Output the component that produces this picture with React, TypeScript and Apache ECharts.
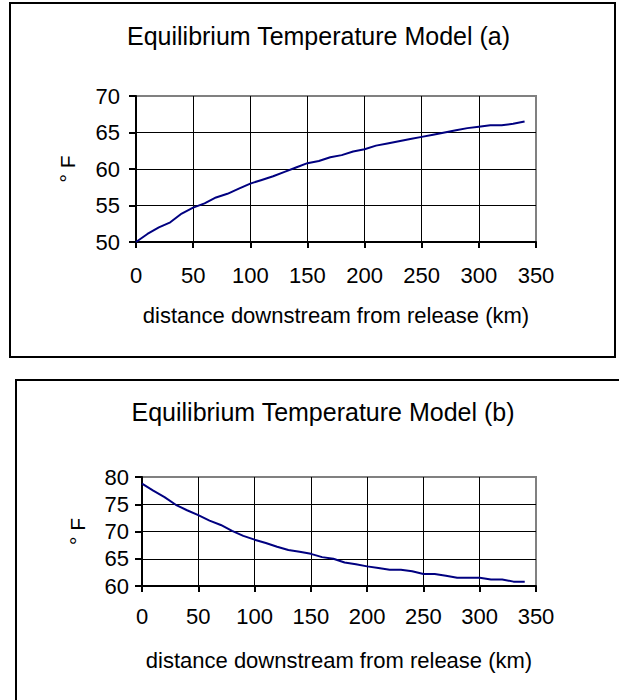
import React, { useEffect, useRef } from "react";
import * as echarts from "echarts";

// ---- data ----
const distanceKm = [0, 10, 20, 30, 40, 50, 60, 70, 80, 90, 100, 110, 120, 130, 140, 150, 160, 170, 180, 190, 200, 210, 220, 230, 240, 250, 260, 270, 280, 290, 300, 310, 320, 330, 340];
const tempModelA = [50.0, 51.1, 52.0, 52.7, 53.9, 54.7, 55.3, 56.1, 56.6, 57.3, 58.0, 58.5, 59.0, 59.6, 60.2, 60.8, 61.1, 61.6, 61.9, 62.4, 62.7, 63.2, 63.5, 63.8, 64.1, 64.4, 64.7, 65.0, 65.3, 65.6, 65.8, 66.0, 66.0, 66.2, 66.5];
const tempModelB = [78.8, 77.5, 76.3, 74.9, 73.9, 73.0, 72.0, 71.2, 70.1, 69.2, 68.5, 67.9, 67.2, 66.6, 66.3, 65.9, 65.3, 65.0, 64.3, 64.0, 63.6, 63.3, 63.0, 63.0, 62.7, 62.2, 62.2, 61.9, 61.5, 61.5, 61.5, 61.2, 61.2, 60.8, 60.8];
const titleA = "Equilibrium Temperature Model (a)";
const titleB = "Equilibrium Temperature Model (b)";
const xAxisName = "distance downstream from release (km)";
const yAxisName = "° F";
const xRange = [0, 350, 50];
const yRangeA = [50, 70, 5];
const yRangeB = [60, 80, 5];

const FONT = '"Liberation Sans", Arial, Helvetica, sans-serif';

function xAxisOpt(gridIndex: number, labelMargin: number, nameGap: number) {
  return {
    type: "value",
    gridIndex,
    min: xRange[0],
    max: xRange[1],
    interval: xRange[2],
    name: xAxisName,
    nameLocation: "middle",
    nameGap,
    nameTextStyle: { fontSize: 22, color: "#000", fontFamily: FONT },
    axisLine: { show: true, lineStyle: { color: "#000", width: 2 } },
    axisTick: { show: true, inside: false, length: 6, lineStyle: { color: "#000", width: 2 } },
    axisLabel: { fontSize: 22, color: "#000", fontFamily: FONT, margin: labelMargin },
    splitLine: { show: true, showMinLine: false, showMaxLine: false, lineStyle: { color: "#000", width: 1 } },
  };
}

function yAxisOpt(gridIndex: number, range: number[], labelMargin: number, nameGap: number) {
  return {
    type: "value",
    gridIndex,
    min: range[0],
    max: range[1],
    interval: range[2],
    name: yAxisName,
    nameLocation: "middle",
    nameRotate: 90,
    nameGap,
    nameTextStyle: { fontSize: 21, color: "#000", fontFamily: FONT },
    axisLine: { show: true, lineStyle: { color: "#000", width: 2 } },
    axisTick: { show: true, inside: false, length: 7, lineStyle: { color: "#000", width: 2 } },
    axisLabel: { fontSize: 22, color: "#000", fontFamily: FONT, margin: labelMargin },
    splitLine: { show: true, showMinLine: false, showMaxLine: false, lineStyle: { color: "#000", width: 1 } },
  };
}

export default function App() {
  const ref = useRef<HTMLDivElement>(null);
  useEffect(() => {
    if (!ref.current) return;
    const chart = echarts.init(ref.current, null, { renderer: "svg" });
    const option = {
      animation: false,
      backgroundColor: "#fff",
      grid: [
        { left: 136, top: 96, width: 400, height: 146, show: true, borderColor: "#808080", borderWidth: 2, backgroundColor: "transparent" },
        { left: 142, top: 477, width: 394, height: 109, show: true, borderColor: "#808080", borderWidth: 2, backgroundColor: "transparent" },
      ],
      xAxis: [xAxisOpt(0, 22, 62), xAxisOpt(1, 19, 63)],
      yAxis: [yAxisOpt(0, yRangeA, 16, 58), yAxisOpt(1, yRangeB, 13, 54)],
      series: [
        {
          type: "line",
          name: titleA,
          xAxisIndex: 0,
          yAxisIndex: 0,
          data: distanceKm.map((d, i) => [d, tempModelA[i]]),
          showSymbol: false,
          symbol: "none",
          lineStyle: { color: "#000080", width: 2 },
          z: 5,
        },
        {
          type: "line",
          name: titleB,
          xAxisIndex: 1,
          yAxisIndex: 1,
          data: distanceKm.map((d, i) => [d, tempModelB[i]]),
          showSymbol: false,
          symbol: "none",
          lineStyle: { color: "#000080", width: 2 },
          z: 5,
        },
      ],
      graphic: [
        {
          type: "rect",
          shape: { x: 10, y: 3, width: 605, height: 354 },
          style: { fill: "none", stroke: "#000", lineWidth: 2 },
          silent: true,
        },
        {
          type: "rect",
          shape: { x: 16, y: 380, width: 640, height: 400 },
          style: { fill: "none", stroke: "#000", lineWidth: 2 },
          silent: true,
        },
        {
          type: "text",
          x: 318.5,
          y: 35.5,
          style: { text: titleA, fontSize: 25, fontFamily: FONT, fill: "#000", textAlign: "center", textVerticalAlign: "middle" },
        },
        {
          type: "text",
          x: 323,
          y: 411.5,
          style: { text: titleB, fontSize: 25, fontFamily: FONT, fill: "#000", textAlign: "center", textVerticalAlign: "middle" },
        },
      ],
    };
    chart.setOption(option as any);
    return () => chart.dispose();
  }, []);
  return (
    <div
      ref={ref}
      style={{ position: "absolute", left: 0, top: 0, width: 619, height: 700, background: "#fff" }}
    />
  );
}
